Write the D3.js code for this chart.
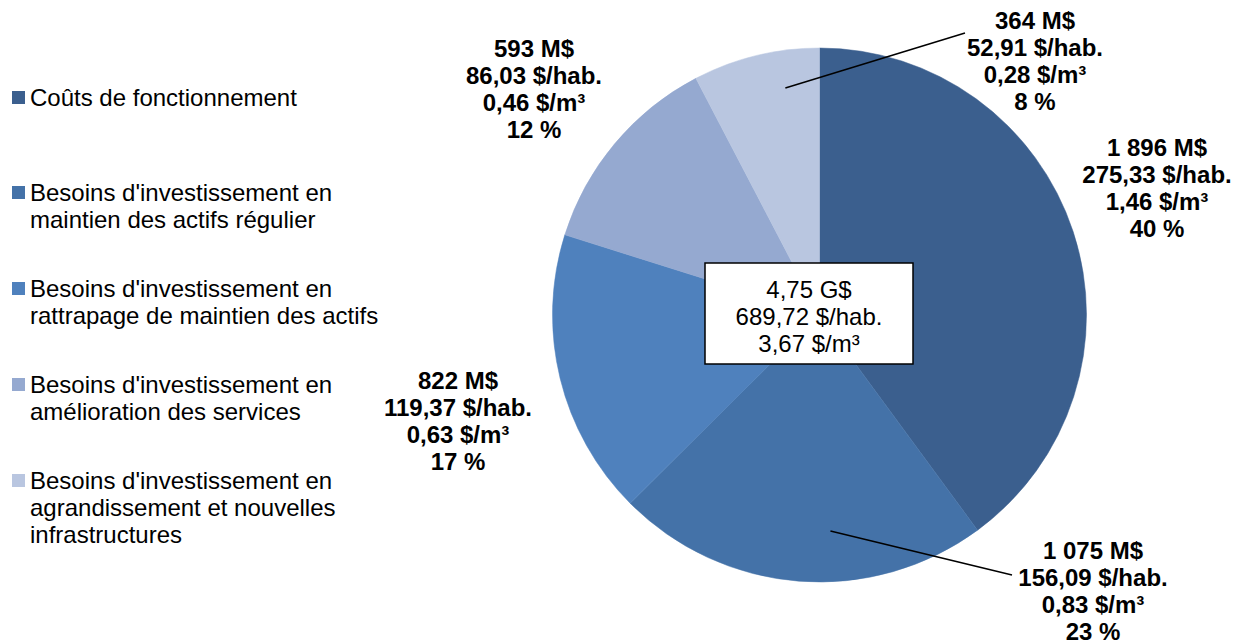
<!DOCTYPE html>
<html>
<head>
<meta charset="utf-8">
<script src="https://cdn.jsdelivr.net/npm/d3@7"></script>
<style>
  body { margin: 0; background: #fff; }
  svg { display: block; font-family: "Liberation Sans", Arial, sans-serif; }
</style>
</head>
<body>
<svg id="chart" width="1249" height="644"></svg>
<script>
// Category names (legend), each split into display lines
const categories = [
  ["Coûts de fonctionnement"],
  ["Besoins d'investissement en", "maintien des actifs régulier"],
  ["Besoins d'investissement en", "rattrapage de maintien des actifs"],
  ["Besoins d'investissement en", "amélioration des services"],
  ["Besoins d'investissement en", "agrandissement et nouvelles", "infrastructures"]
];
// Amounts in M$
const amounts = [1896, 1075, 822, 593, 364];
const perCapita = ["275,33", "156,09", "119,37", "86,03", "52,91"];
const perM3 = ["1,46", "0,83", "0,63", "0,46", "0,28"];
const colors = ["#3b5f8e", "#4472a8", "#4f81bd", "#95a9d0", "#b9c6e0"];
const totalLines = ["4,75 G$", "689,72 $/hab.", "3,67 $/m³"];

// Label block anchors: centre x, middle of first line y
const labelPos = [[1157, 147], [1093, 550], [458, 380], [534, 48], [1035, 20]];
// Leader lines: [end point, position across slice (0..1), radius fraction]
const leaders = [null, [[1012, 575], 0.41, 0.81], null, null, [[965, 33], 0.69, 0.86]];

const svg = d3.select("#chart");
const cx = 819.5, cy = 315, r = 267;
const fs = 24, lh = 27, capMid = 8.6;

const total = d3.sum(amounts);
const fmtAmount = v => d3.format(",")(v).replace(/,/g, " ");
const pct = v => Math.round(v / total * 100) + " %";

const pie = d3.pie().sort(null).value(d => d);
const arcs = pie(amounts);
const arc = d3.arc().innerRadius(0).outerRadius(r);

const g = svg.append("g").attr("transform", `translate(${cx},${cy})`);
g.selectAll("path").data(arcs).join("path")
  .attr("d", arc)
  .attr("fill", (d, i) => colors[i])
  .attr("stroke", (d, i) => colors[i])
  .attr("stroke-width", 0.5);

// Leader lines from slice interior to the label
arcs.forEach((a, i) => {
  const L = leaders[i];
  if (!L) return;
  const ang = a.startAngle + (a.endAngle - a.startAngle) * L[1];
  const rr = r * L[2];
  svg.append("line")
    .attr("x1", cx + Math.sin(ang) * rr).attr("y1", cy - Math.cos(ang) * rr)
    .attr("x2", L[0][0]).attr("y2", L[0][1])
    .attr("stroke", "#000").attr("stroke-width", 1.5);
});

// Data labels
arcs.forEach((a, i) => {
  const lines = [fmtAmount(amounts[i]) + " M$", perCapita[i] + " $/hab.", perM3[i] + " $/m³", pct(amounts[i])];
  const t = svg.append("text")
    .attr("text-anchor", "middle")
    .attr("font-size", fs).attr("font-weight", "bold").attr("fill", "#000");
  lines.forEach((s, k) => {
    t.append("tspan").attr("x", labelPos[i][0]).attr("y", labelPos[i][1] + k * lh + capMid).text(s);
  });
});

// Central total box
const box = { x: 705, y: 263, w: 208, h: 101 };
svg.append("rect")
  .attr("x", box.x).attr("y", box.y).attr("width", box.w).attr("height", box.h)
  .attr("fill", "#fff").attr("stroke", "#000").attr("stroke-width", 1.5);
const tt = svg.append("text").attr("text-anchor", "middle").attr("font-size", fs).attr("fill", "#000");
totalLines.forEach((s, k) => {
  tt.append("tspan").attr("x", box.x + box.w / 2).attr("y", 289 + k * lh + capMid).text(s);
});

// Legend
const legendTop = [97, 192, 288, 384, 480];
categories.forEach((lines, i) => {
  const y = legendTop[i];
  svg.append("rect").attr("x", 12).attr("y", y - 6).attr("width", 13).attr("height", 13).attr("fill", colors[i]);
  const t = svg.append("text").attr("font-size", fs).attr("fill", "#000");
  lines.forEach((s, k) => {
    t.append("tspan").attr("x", 30).attr("y", y + k * lh + capMid).text(s);
  });
});
</script>
</body>
</html>
